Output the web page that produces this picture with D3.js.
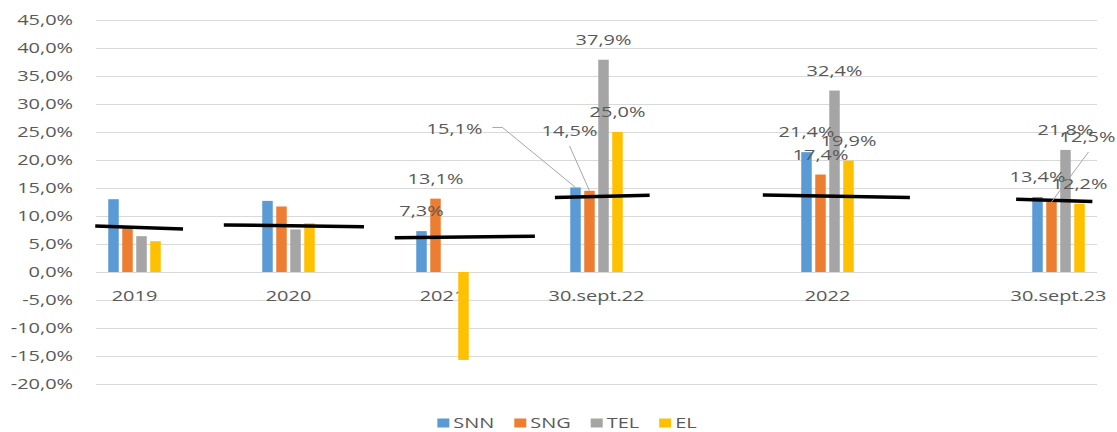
<!DOCTYPE html>
<html><head><meta charset="utf-8">
<script src="https://cdn.jsdelivr.net/npm/d3@7"></script>
<style>
body{margin:0;background:#fff}
text{font-family:"Open Sans","Noto Sans",sans-serif;fill:#595959}
</style>
</head><body>
<svg id="chart" width="1117" height="432"></svg>
<script>
// ---------- data ----------
const categories = ["2019", "2020", "2021", "30.sept.22", "2022", "30.sept.23"];
// category axis slots (blank slots keep the original uneven spacing)
const axisSlots = ["2019", "_b1", "2020", "_b2", "2021", "_b3", "30.sept.22", "_b4", "_b5", "2022", "_b6", "_b7", "30.sept.23"];
const seriesNames = ["SNN", "SNG", "TEL", "EL"];
const SNN = [13.0, 12.7, 7.3, 15.1, 21.4, 13.4];
const SNG = [8.0, 11.7, 13.1, 14.5, 17.4, 12.5];
const TEL = [6.4, 7.6, null, 37.9, 32.4, 21.8];
const EL  = [5.5, 8.7, -15.7, 25.0, 19.9, 12.2];
const yTicks = [-20, -15, -10, -5, 0, 5, 10, 15, 20, 25, 30, 35, 40, 45];
// black reference lines: value at left end, value at right end
const refStart = [8.2, 8.4, 6.1, 13.3, 13.75, 13.0];
const refEnd   = [7.7, 8.1, 6.4, 13.7, 13.3, 12.6];
const labeledCategories = ["2021", "30.sept.22", "2022", "30.sept.23"];
const hiddenLabels = ["2021|EL"];

// ---------- layout / style ----------
const colors = {SNN: "#5b9bd5", SNG: "#ed7d31", TEL: "#a5a5a5", EL: "#ffc000"};
const refSpan = [[-0.51, 0.63], [-0.84, 0.98], [-0.62, 1.2], [-0.54, 0.69], [-0.84, 1.07], [-0.55, 0.44]];
const labelMoves = {"30.sept.22|SNN": [-121, -39], "30.sept.22|SNG": [-20, -40], "30.sept.23|SNG": [36, -45]};
const SX = 1.33;      // horizontal text stretch
const FS = 15;

const seriesData = {SNN, SNG, TEL, EL};
const svg = d3.select("#chart");
const x = d3.scaleBand().domain(axisSlots).range([96, 1097]).padding(0);
const y = d3.scaleLinear().domain([-20, 45]).range([384, 20]);
const inner = d3.scaleBand().domain(seriesNames).range([-26.25, 26.25]).paddingInner(0.25);
const cx = c => x(c) + x.bandwidth() / 2;
const fmt = v => v.toFixed(1).replace(".", ",") + "%";

function stretchedText(g, tx, ty, str, anchor, size) {
  return g.append("text")
    .attr("transform", `translate(${tx},${ty}) scale(${SX},1)`)
    .attr("text-anchor", anchor)
    .attr("dy", "0.35em")
    .style("font-size", (size || FS) + "px")
    .text(str);
}

// gridlines
svg.append("g").selectAll("line").data(yTicks).join("line")
  .attr("x1", x.range()[0]).attr("x2", x.range()[1])
  .attr("y1", d => y(d) + 0.5).attr("y2", d => y(d) + 0.5)
  .attr("stroke", "#d9d9d9").attr("stroke-width", 1);

// y tick labels
const yl = svg.append("g");
yTicks.forEach(t => stretchedText(yl, 73, y(t), fmt(t), "end"));

// x labels
const xl = svg.append("g");
categories.forEach(c => stretchedText(xl, cx(c), y(0) + 24, c, "middle"));

// bars
const barData = [];
categories.forEach((c, i) => seriesNames.forEach(s => {
  const v = seriesData[s][i];
  if (v !== null && v !== undefined) barData.push({c, i, s, v});
}));
svg.append("g").selectAll("rect").data(barData).join("rect")
  .attr("x", d => cx(d.c) + inner(d.s))
  .attr("width", inner.bandwidth())
  .attr("y", d => y(Math.max(0, d.v)))
  .attr("height", d => Math.abs(y(d.v) - y(0)))
  .attr("fill", d => colors[d.s]);

// black reference lines
svg.append("g").selectAll("line").data(categories).join("line")
  .attr("x1", (c, i) => cx(c) + refSpan[i][0] * x.bandwidth())
  .attr("x2", (c, i) => cx(c) + refSpan[i][1] * x.bandwidth())
  .attr("y1", (c, i) => y(refStart[i]))
  .attr("y2", (c, i) => y(refEnd[i]))
  .attr("stroke", "#000").attr("stroke-width", 3.5);

// data labels + leader lines
const lg = svg.append("g");
const leaders = svg.append("g");
barData.filter(d => labeledCategories.includes(d.c) && !hiddenLabels.includes(d.c + "|" + d.s)).forEach(d => {
  const key = d.c + "|" + d.s;
  const bx = cx(d.c) + inner(d.s) + inner.bandwidth() / 2;
  const by = y(Math.max(0, d.v));
  const mv = labelMoves[key] || [0, 0];
  const lx = bx + mv[0], ly = by - 20 + mv[1];
  const t = stretchedText(lg, lx, ly, fmt(d.v), "middle");
  if (labelMoves[key]) {
    const w = t.node().getBBox().width * SX;
    let pts;
    if (Math.abs(mv[0]) > 60) {
      const sx0 = lx + w / 2 + 10;
      pts = [[sx0, ly - 1], [sx0 + 10, ly - 1], [bx, by]];
    } else {
      pts = [[lx + (mv[0] > 0 ? 1 : 0), ly + 15], [bx, by]];
    }
    leaders.append("path").attr("d", d3.line()(pts))
      .attr("fill", "none").attr("stroke", "#a6a6a6").attr("stroke-width", 1);
  }
});

// legend
const leg = svg.append("g");
let items = seriesNames.map(s => {
  const g = leg.append("g");
  g.append("rect").attr("x", 0).attr("y", -4.5).attr("width", 12).attr("height", 9).attr("fill", colors[s]);
  const t = g.append("text").attr("transform", `translate(16,0) scale(${SX},1)`).attr("dy", "0.35em")
    .style("font-size", FS + "px").text(s);
  return {g, w: 16 + t.node().getBBox().width * SX};
});
const gap = 20;
const total = d3.sum(items, d => d.w) + gap * (items.length - 1);
let px = 567 - total / 2;
items.forEach(it => { it.g.attr("transform", `translate(${px},423)`); px += it.w + gap; });
</script>
</body></html>
